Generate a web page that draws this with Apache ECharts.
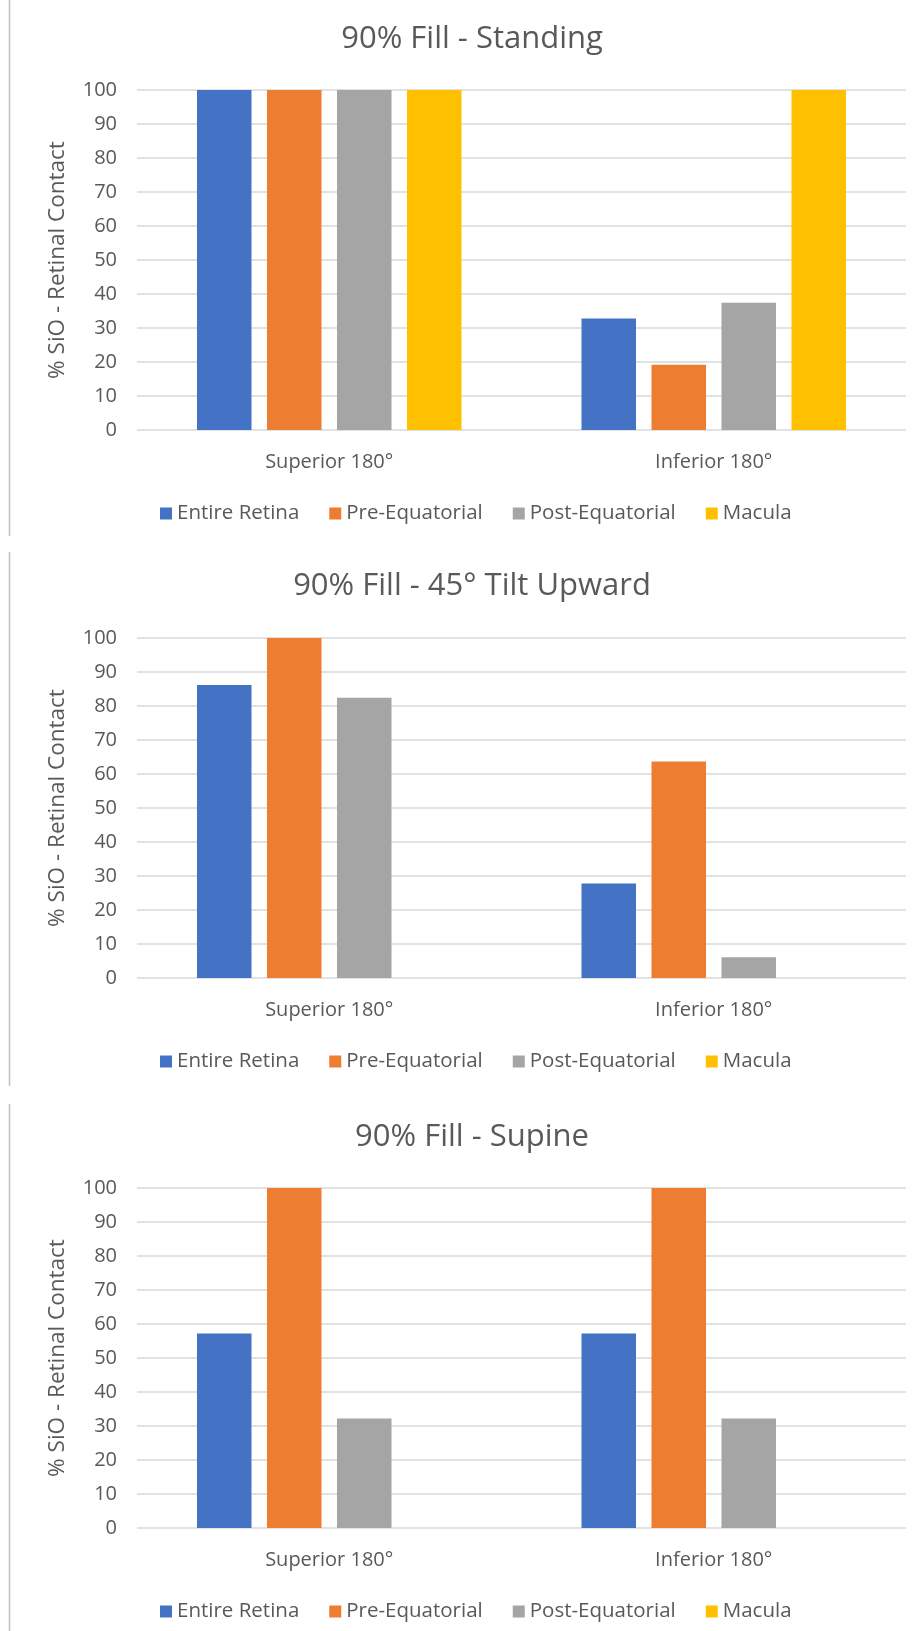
<!DOCTYPE html>
<html><head><meta charset="utf-8">
<script src="https://cdn.jsdelivr.net/npm/echarts@6/dist/echarts.min.js"></script>
<style>html,body{margin:0;padding:0;background:#fff}#c{width:923px;height:1631px}</style>
</head><body><div id="c"></div>
<script>
// ---- data ----
const categories = ['Superior 180°', 'Inferior 180°'];
const seriesNames = ['Entire Retina', 'Pre-Equatorial', 'Post-Equatorial', 'Macula'];
const panelTitles = ['90% Fill - Standing', '90% Fill - 45° Tilt Upward', '90% Fill - Supine'];
const yAxisTitle = '% SiO - Retinal Contact';

const standingEntire = [100, 32.8];
const standingPre = [100, 19.2];
const standingPost = [100, 37.4];
const standingMacula = [100, 100];

const tiltEntire = [86.2, 27.8];
const tiltPre = [100, 63.7];
const tiltPost = [82.4, 6.1];
const tiltMacula = [0, 0];

const supineEntire = [57.2, 57.2];
const supinePre = [100, 100];
const supinePost = [32.2, 32.2];
const supineMacula = [0, 0];

// ---- styling / layout ----
const colors = ['#4472C4', '#ED7D31', '#A5A5A5', '#FFC000'];
const panels = [
  [standingEntire, standingPre, standingPost, standingMacula],
  [tiltEntire, tiltPre, tiltPost, tiltMacula],
  [supineEntire, supinePre, supinePost, supineMacula]
];
const gridTops = [90, 638, 1188];
const plotH = 340;
const titleTops = [24, 571, 1122];
const legendTops = [503, 1051, 1601];
const FONT = '"Open Sans", "Noto Sans", sans-serif';
const TXT = '#595959';

const option = {
  animation: false,
  backgroundColor: '#fff',
  textStyle: { fontFamily: FONT },
  title: panelTitles.map((t, i) => ({
    text: t, left: 472, top: titleTops[i], textAlign: 'center', padding: 0,
    textStyle: { fontFamily: FONT, fontSize: 31, fontWeight: 'normal', color: TXT }
  })),
  legend: legendTops.map(top => ({
    data: seriesNames, left: 160, top: top, icon: 'rect', itemWidth: 12, itemHeight: 12,
    itemGap: 30, padding: 0,
    textStyle: { fontFamily: FONT, fontSize: 20.5, color: TXT, padding: [0, 0, 0, 0] }
  })),
  grid: gridTops.map(top => ({ left: 137, width: 769, top: top, height: plotH })),
  xAxis: gridTops.map((_, i) => ({
    type: 'category', gridIndex: i, data: categories,
    axisLine: { show: false }, axisTick: { show: false },
    axisLabel: { fontFamily: FONT, fontSize: 20, color: TXT, margin: 22 }
  })),
  yAxis: gridTops.map((_, i) => ({
    type: 'value', gridIndex: i, min: 0, max: 100, interval: 10,
    name: yAxisTitle, nameLocation: 'middle', nameGap: 68,
    nameTextStyle: { fontFamily: FONT, fontSize: 22.5, color: TXT },
    axisLine: { show: false }, axisTick: { show: false },
    axisLabel: { fontFamily: FONT, fontSize: 20, color: TXT, margin: 20 },
    splitLine: { lineStyle: { color: '#D9D9D9', width: 1.5 } }
  })),
  series: [],
  graphic: [
    { type: 'line', shape: { x1: 9.5, y1: 0, x2: 9.5, y2: 536 }, style: { stroke: '#BFBFBF', lineWidth: 1.5 } },
    { type: 'line', shape: { x1: 9.5, y1: 552, x2: 9.5, y2: 1086 }, style: { stroke: '#BFBFBF', lineWidth: 1.5 } },
    { type: 'line', shape: { x1: 9.5, y1: 1104, x2: 9.5, y2: 1631 }, style: { stroke: '#BFBFBF', lineWidth: 1.5 } }
  ]
};

panels.forEach((vals, p) => {
  vals.forEach((arr, s) => {
    option.series.push({
      type: 'bar', name: seriesNames[s], xAxisIndex: p, yAxisIndex: p,
      data: arr, itemStyle: { color: colors[s] },
      barGap: '28.4%', barCategoryGap: '31.2%'
    });
  });
});

const chart = echarts.init(document.getElementById('c'), null, { renderer: 'canvas' });
chart.setOption(option);
</script></body></html>
